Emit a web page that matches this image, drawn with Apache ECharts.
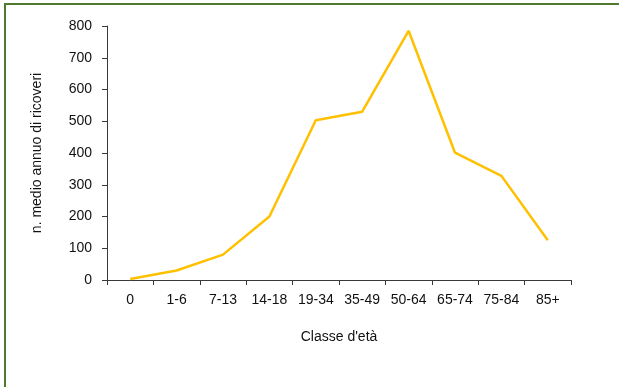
<!DOCTYPE html>
<html lang="it">
<head>
<meta charset="UTF-8">
<title>Ricoveri per classe d'età</title>
<style>
  html, body { margin: 0; padding: 0; background: #fff; }
  #main { width: 619px; height: 387px; }
</style>
</head>
<body>
<div id="main"></div>
<script src="https://cdn.jsdelivr.net/npm/echarts@6/dist/echarts.min.js"></script>
<script>
// dati
var classi = ['0', '1-6', '7-13', '14-18', '19-34', '35-49', '50-64', '65-74', '75-84', '85+'];
var ricoveri = [3, 30, 80, 200, 503, 530, 785, 401, 328, 125];
var yTicks = [0, 100, 200, 300, 400, 500, 600, 700, 800];

var font = 'Liberation Sans, Arial, sans-serif';
var chart = echarts.init(document.getElementById('main'));

var option = {
  animation: false,
  backgroundColor: '#fff',
  grid: { left: 107, right: 48, top: 26, bottom: 107, containLabel: false },
  graphic: [{
    type: 'rect',
    shape: { x: 5, y: 4, width: 700, height: 500 },
    style: { fill: 'none', stroke: '#4f7a2f', lineWidth: 2 }
  }],
  xAxis: {
    type: 'category',
    data: classi,
    boundaryGap: true,
    name: "Classe d'età",
    nameLocation: 'middle',
    nameGap: 50,
    nameTextStyle: { color: '#111', fontSize: 14, fontFamily: font },
    axisLine: { lineStyle: { color: '#3a3a3a', width: 1 } },
    axisTick: { show: true, interval: 0, length: 5, alignWithLabel: false, lineStyle: { color: '#3a3a3a' } },
    axisLabel: { interval: 0, hideOverlap: false, color: '#111', fontSize: 14, fontFamily: font, margin: 13 },
    splitLine: { show: false }
  },
  yAxis: {
    type: 'value',
    min: yTicks[0],
    max: yTicks[yTicks.length - 1],
    interval: 100,
    name: 'n. medio annuo di ricoveri',
    nameLocation: 'middle',
    nameRotate: 90,
    nameGap: 63,
    nameTextStyle: { color: '#111', fontSize: 14, fontFamily: font },
    axisLine: { show: true, lineStyle: { color: '#3a3a3a', width: 1 } },
    axisTick: { show: true, length: 5, lineStyle: { color: '#3a3a3a' } },
    axisLabel: { color: '#111', fontSize: 14, fontFamily: font, margin: 15 },
    splitLine: { show: false }
  },
  series: [{
    type: 'line',
    data: ricoveri,
    symbol: 'none',
    lineStyle: { color: '#FFC000', width: 2.5 },
    itemStyle: { color: '#FFC000' }
  }]
};
chart.setOption(option);
</script>
</body>
</html>
